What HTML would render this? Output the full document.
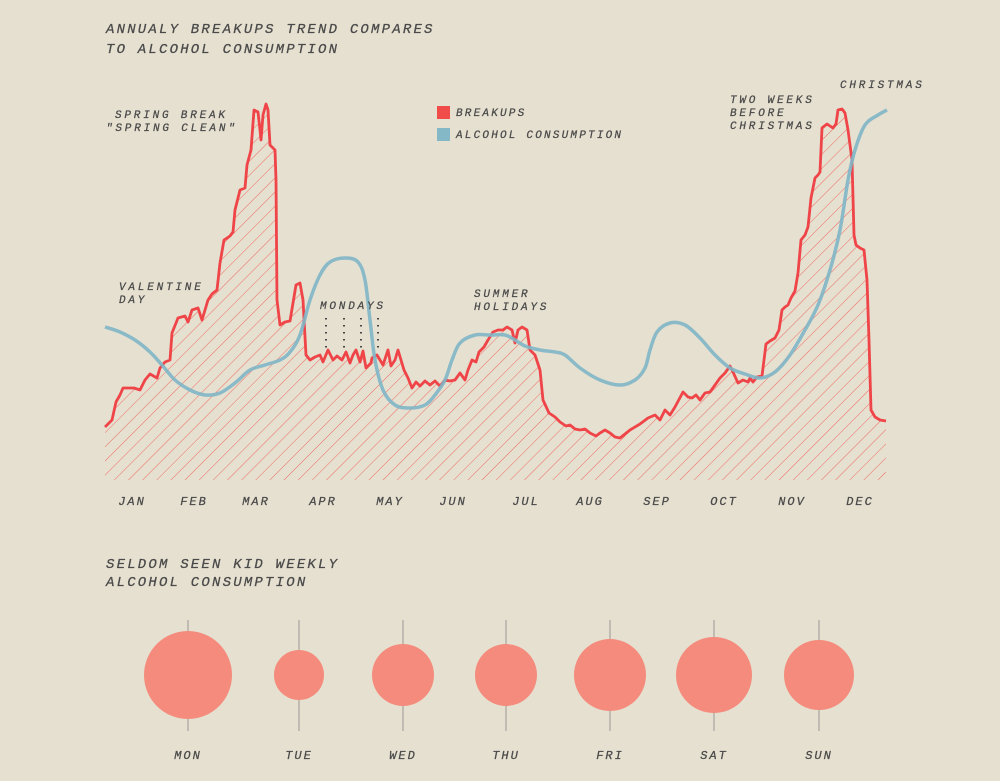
<!DOCTYPE html>
<html><head><meta charset="utf-8"><style>
body{margin:0;background:#e6e0d0;}
svg{display:block;}
text{font-family:"Liberation Mono",monospace;font-style:italic;fill:#4a4a4a;stroke:#4a4a4a;stroke-width:0.25;}
</style></head><body>
<svg width="1000" height="781" viewBox="0 0 1000 781">
<defs>
<pattern id="hatch" patternUnits="userSpaceOnUse" width="10" height="10" patternTransform="rotate(45)">
<line x1="0" y1="0" x2="0" y2="10" stroke="#ef6a60" stroke-width="1"/>
</pattern>
</defs>
<rect width="1000" height="781" fill="#e6e0d0"/>
<g>
<text x="106" y="33" font-size="14" letter-spacing="2.2">ANNUALY BREAKUPS TREND COMPARES</text>
<text x="106" y="53" font-size="14" letter-spacing="2.2">TO ALCOHOL CONSUMPTION</text>
</g>
<g id="main"></g>
<g id="annot" font-size="11">
<text x="115" y="118" font-size="11" letter-spacing="2.8">SPRING BREAK</text>
<text x="106" y="131" font-size="11" letter-spacing="2.8">"SPRING CLEAN"</text>
<text x="119" y="290" font-size="11" letter-spacing="2.8">VALENTINE</text>
<text x="119" y="303" font-size="11" letter-spacing="2.8">DAY</text>
<text x="320" y="309" font-size="11" letter-spacing="2.8">MONDAYS</text>
<text x="474" y="297" font-size="11" letter-spacing="2.8">SUMMER</text>
<text x="474" y="310" font-size="11" letter-spacing="2.8">HOLIDAYS</text>
<text x="730" y="103" font-size="11" letter-spacing="2.8">TWO WEEKS</text>
<text x="730" y="116" font-size="11" letter-spacing="2.8">BEFORE</text>
<text x="730" y="129" font-size="11" letter-spacing="2.8">CHRISTMAS</text>
<text x="840" y="88" font-size="11" letter-spacing="2.8">CHRISTMAS</text>
</g>
<g>
<rect x="437" y="106" width="13" height="13" fill="#ef4c4a"/>
<text x="456" y="116" font-size="11" letter-spacing="2.2">BREAKUPS</text>
<rect x="437" y="128" width="13" height="13" fill="#85b8c6"/>
<text x="456" y="138" font-size="11" letter-spacing="2.2">ALCOHOL CONSUMPTION</text>
</g>
<g>
<text x="106" y="568" font-size="14" letter-spacing="2.2">SELDOM SEEN KID WEEKLY</text>
<text x="106" y="586" font-size="14" letter-spacing="2.2">ALCOHOL CONSUMPTION</text>
</g>
<g id="bubbles"></g>
</svg>
<script>
// time t: 0..782 spans Jan 1 – Dec 31 ; value index 0..380
const months = ["JAN","FEB","MAR","APR","MAY","JUN","JUL","AUG","SEP","OCT","NOV","DEC"];
const monthT = [27,89,151,218,285,348,421,485,552,619,687,755];
const breakT = [0,7,11,15,18,29,35,40,45,52,55,60,65,67,73,80,83,87,93,97,103,107,112,115,119,125,128,130,135,140,142,146,149,153,155,156,158,161,163,165,170,171,172,175,180,185,191,195,198,201,205,210,215,218,223,228,232,237,241,245,248,251,255,258,261,266,267,272,275,278,283,286,290,293,299,303,307,311,315,320,325,330,335,340,345,350,355,360,363,367,371,374,379,383,388,393,398,402,407,410,413,417,422,425,430,435,438,444,450,455,461,465,470,475,480,485,491,495,500,505,510,515,520,525,535,543,550,555,560,565,570,578,583,587,591,595,600,605,610,615,620,625,628,633,638,643,645,648,652,657,661,665,670,674,677,680,683,686,690,693,696,700,703,706,710,713,715,717,722,728,731,733,737,740,743,747,749,751,755,759,762,764,766,770,775,781];
const breakV = [53,60,78,85,92,92,90,100,106,102,112,118,120,147,162,164,158,170,172,160,180,186,190,217,240,244,248,270,290,292,315,330,370,368,350,340,365,376,370,335,330,300,180,155,158,159,195,197,180,125,120,123,125,118,130,120,124,120,128,117,125,130,118,129,112,117,122,125,120,115,130,114,120,130,110,102,92,98,94,99,95,99,94,100,99,100,107,100,110,120,118,128,133,140,148,150,150,153,150,137,150,153,150,130,125,110,80,67,63,58,54,55,51,50,51,47,44,47,50,47,43,42,46,50,56,62,65,60,70,65,73,88,83,82,85,80,87,88,95,102,107,114,108,97,100,98,102,98,103,104,136,139,142,150,170,173,175,182,189,207,240,245,253,282,302,305,308,352,356,352,356,370,371,367,350,320,245,235,232,230,200,140,70,63,60,59];
const alcT = [0,15,30,45,57,70,85,100,115,130,145,160,175,185,195,205,215,225,240,253,260,265,270,278,290,305,320,330,340,347,355,370,385,400,410,420,435,450,460,475,495,515,530,540,545,552,565,580,595,610,625,640,655,670,685,700,713,725,735,743,750,760,773,782];
const alcV = [153,148,140,128,115,100,90,85,87,97,110,115,120,128,145,180,205,218,222,218,200,160,120,90,75,72,75,85,100,120,137,145,145,145,140,134,130,128,125,112,100,95,100,112,130,148,157,155,142,125,112,106,102,108,125,150,175,210,250,300,330,355,365,370];
const days = ["MON","TUE","WED","THU","FRI","SAT","SUN"];
const drinks = [44,25,31,31,36,38,35];

const X0=105,X1=887,Y0=480,Y1=100;
const xs=t=>X0+t*(X1-X0)/782;
const ys=v=>Y0-v*(Y0-Y1)/380;
const NS="http://www.w3.org/2000/svg";
const mk=(tag,attrs,parent)=>{const e=document.createElementNS(NS,tag);for(const k in attrs)e.setAttribute(k,attrs[k]);parent.appendChild(e);return e;};
const main=document.getElementById('main');

const redPts=breakT.map((t,i)=>xs(t).toFixed(1)+","+ys(breakV[i]).toFixed(1));
const area=mk('path',{d:"M"+xs(breakT[0])+","+Y0+" L"+redPts.join(" L")+" L"+xs(breakT[breakT.length-1])+","+Y0+"Z",fill:"url(#hatch)"},main);



[326,344,361,378].forEach(x=>{
  const l=mk('line',{x1:x,y1:318,x2:x,y2:352,stroke:"#444","stroke-width":2,"stroke-dasharray":"1.5,5.5"},main);
  
  
});

const alcPts=alcT.map((t,i)=>[xs(t),ys(alcV[i])]);
let d="M"+alcPts[0][0]+","+alcPts[0][1];
for(let i=0;i<alcPts.length-1;i++){
  const p0=alcPts[Math.max(0,i-1)],p1=alcPts[i],p2=alcPts[i+1],p3=alcPts[Math.min(alcPts.length-1,i+2)];
  const c1=[p1[0]+(p2[0]-p0[0])/6,p1[1]+(p2[1]-p0[1])/6],c2=[p2[0]-(p3[0]-p1[0])/6,p2[1]-(p3[1]-p1[1])/6];
  d+=` C${c1[0].toFixed(1)},${c1[1].toFixed(1)} ${c2[0].toFixed(1)},${c2[1].toFixed(1)} ${p2[0].toFixed(1)},${p2[1].toFixed(1)}`;
}
const red=mk('polyline',{points:redPts.join(" "),fill:"none",stroke:"#ef4448","stroke-width":2.8,"stroke-linejoin":"round"},main);


const blue=mk('path',{d:d,fill:"none",stroke:"#7fb6c6","stroke-width":3.5,"stroke-opacity":0.9},main);



months.forEach((m,i)=>{
  const t=mk('text',{x:xs(monthT[i]),y:505,"text-anchor":"middle","font-size":"12","letter-spacing":"2"},main);
  t.textContent=m;
  
  
});

const bg=document.getElementById('bubbles');
const bubbleCenters=[188,299,403,506,610,714,819];
days.forEach((dname,i)=>{
  const cx=bubbleCenters[i];
  const l=mk('line',{x1:cx,y1:620,x2:cx,y2:731,stroke:"#999","stroke-width":1},bg);
  
  
  const c=mk('circle',{cx:cx,cy:675,r:drinks[i],fill:"#f48b7c"},bg);
  
  
  const t=mk('text',{x:cx,y:759,"text-anchor":"middle","font-size":"12","letter-spacing":"2"},bg);
  t.textContent=dname;
  
  
});
</script>
</body></html>
